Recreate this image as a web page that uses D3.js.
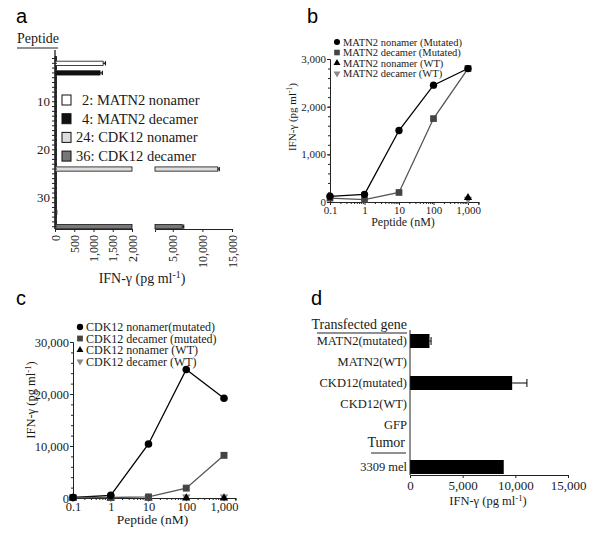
<!DOCTYPE html>
<html>
<head>
<meta charset="utf-8">
<script src="https://cdn.jsdelivr.net/npm/d3@7"></script>
<style>
  body { margin: 0; background: #fff; }
  svg { display: block; }
  text { font-family: "Liberation Serif", "DejaVu Serif", serif; fill: #1a1a1a; }
  .letter { font-family: "Liberation Sans", "DejaVu Sans", sans-serif; font-size: 20px; fill: #000; }
  .domain, .tick line { stroke: #222; }
</style>
</head>
<body>
<svg id="fig" width="600" height="538"></svg>
<script>
// ---------- panel a: peptide screen ----------
const peptideIds = [1, 2, 3, 4, 5, 6, 7, 8, 9, 10, 11, 12, 13, 14, 15, 16, 17, 18,
                    19, 20, 21, 22, 23, 24, 25, 26, 27, 28, 29, 30, 31, 32, 33, 34, 35, 36];
const peptideIfn = [40, 1250, 30, 1170, 40, 30, 30, 40, 30, 30, 40, 30, 30, 40, 30, 40, 30, 30,
                    40, 30, 40, 30, 30, 12600, 40, 30, 30, 40, 30, 30, 30, 40, 50, 40, 30, 6600];
const peptideErr = [0, 60, 0, 60, 0, 0, 0, 0, 0, 0, 0, 0, 0, 0, 0, 0, 0, 0,
                    0, 0, 0, 0, 0, 250, 0, 0, 0, 0, 0, 0, 0, 0, 0, 0, 0, 250];
const legendIds = [2, 4, 24, 36];
const legendNames = ["MATN2 nonamer", "MATN2 decamer", "CDK12 nonamer", "CDK12 decamer"];
const aTicksLow = [0, 500, 1000, 1500, 2000];
const aTicksHigh = [5000, 10000, 15000];

// ---------- panel b: MATN2 titration ----------
const doses = [0.1, 1, 10, 100, 1000];
const matn2NonMut = [120, 160, 1500, 2450, 2800];
const matn2DecMut = [80, 50, 200, 1750, 2800];
const matn2NonWT = [null, null, null, null, 90];
const matn2DecWT = [null, null, null, null, 60];
const bLabels = ["MATN2 nonamer (Mutated)", "MATN2 decamer (Mutated)", "MATN2 nonamer (WT)", "MATN2 decamer (WT)"];

// ---------- panel c: CDK12 titration ----------
const cdk12NonMut = [100, 500, 10400, 24700, 19200];
const cdk12DecMut = [100, 100, 200, 1900, 8200];
const cdk12NonWT = [0, 0, 0, 0, 0];
const cdk12DecWT = [100, 100, 100, 200, 200];
const cLabels = ["CDK12 nonamer(mutated)", "CDK12 decamer (mutated)", "CDK12 nonamer (WT)", "CDK12 decamer (WT)"];

// ---------- panel d: transfected genes ----------
const genes = ["MATN2(mutated)", "MATN2(WT)", "CKD12(mutated)", "CKD12(WT)", "GFP", "Tumor", "3309 mel"];
const geneIfn = [1850, 0, 9700, 0, 0, null, 8900];
const geneErr = [150, 0, 1400, 0, 0, null, 0];
const dTicks = [0, 5000, 10000, 15000];

const svg = d3.select("#fig");
const fmt = d3.format(",");

function ifnLabel(sel, size) {
  sel.style("font-size", size + "px");
  sel.append("tspan").text("IFN-γ (pg ml");
  sel.append("tspan").attr("dy", -size * 0.35).style("font-size", (size * 0.7) + "px").text("-1");
  sel.append("tspan").attr("dy", size * 0.35).text(")");
}

// panel letters
[["a", 16, 23], ["b", 307, 23], ["c", 16, 305], ["d", 311, 305]].forEach(([t, x, y]) =>
  svg.append("text").attr("class", "letter").attr("x", x).attr("y", y).text(t));

// ================= panel a =================
const ya = d3.scaleBand().domain(peptideIds).range([55.8, 229.4]).padding(0.12);
const xa1 = d3.scaleLinear().domain([0, 2000]).range([55, 132]);
const xa2 = d3.scaleLinear().domain([2000, 15000]).range([155, 232]);
const fillA = d => d === 2 ? "#fff" : d === 4 ? "#111" : d === 24 ? "#ddd" : d === 36 ? "#777" : "#555";

const ga = svg.append("g");
peptideIds.forEach((id, i) => {
  const v = peptideIfn[i], y = ya(id), h = ya.bandwidth();
  ga.append("rect").attr("x", xa1(0)).attr("y", y).attr("height", h)
    .attr("width", Math.max(xa1(Math.min(v, 2000)) - xa1(0), 1.5))
    .attr("fill", fillA(id)).attr("stroke", "#111").attr("stroke-width", 0.8);
  let xe = xa1(Math.min(v, 2000));
  if (v > 2000) {
    ga.append("rect").attr("x", xa2(2000)).attr("y", y).attr("height", h)
      .attr("width", xa2(v) - xa2(2000))
      .attr("fill", fillA(id)).attr("stroke", "#111").attr("stroke-width", 0.8);
    xe = xa2(v);
  }
  if (peptideErr[i] > 0) {
    const xr = v > 2000 ? xa2(v + peptideErr[i]) : xa1(v + peptideErr[i]);
    ga.append("line").attr("x1", xe).attr("x2", xr).attr("y1", y + h / 2).attr("y2", y + h / 2)
      .attr("stroke", "#111").attr("stroke-width", 1.2);
    ga.append("line").attr("x1", xr).attr("x2", xr).attr("y1", y).attr("y2", y + h)
      .attr("stroke", "#111").attr("stroke-width", 1.2);
  }
});

const ayAxis = svg.append("g").attr("transform", "translate(55,0)")
  .call(d3.axisLeft(ya).tickSize(3).tickPadding(2).tickFormat(d => d % 10 === 0 ? d : ""));
ayAxis.select(".domain").attr("d", "M0,50V229").attr("stroke-width", 1.3);
ayAxis.selectAll(".tick line").attr("x2", 2).attr("x1", -3);
ayAxis.selectAll("text").style("font-size", "13px").attr("fill", "#1a1a1a");

function rotTicks(g) {
  g.selectAll("text").style("font-size", "12px").attr("fill", "#1a1a1a")
    .attr("text-anchor", "end").attr("transform", "rotate(-90)")
    .attr("x", -6).attr("y", 0).attr("dy", "0.35em");
}
svg.append("g").attr("transform", "translate(0,229)")
  .call(d3.axisBottom(xa1).tickValues(aTicksLow).tickSize(3).tickFormat(fmt)).call(rotTicks);
svg.append("g").attr("transform", "translate(0,229)")
  .call(d3.axisBottom(xa2).tickValues(aTicksHigh).tickSize(3).tickFormat(fmt)).call(rotTicks);

svg.append("text").attr("x", 17).attr("y", 43).style("font-size", "14px").text("Peptide");
svg.append("line").attr("x1", 17).attr("x2", 58).attr("y1", 48).attr("y2", 48).attr("stroke", "#222").attr("stroke-width", 1.2);
svg.append("text").attr("x", 142).attr("y", 283).attr("text-anchor", "middle").call(ifnLabel, 14);

// legend a
legendIds.forEach((id, i) => {
  const cy = 100 + i * 18.7;
  svg.append("rect").attr("x", 62).attr("y", cy - 5).attr("width", 9).attr("height", 10)
    .attr("fill", fillA(id)).attr("stroke", "#111").attr("stroke-width", 1);
  svg.append("text").attr("x", id < 10 ? 82 : 76).attr("y", cy).attr("dy", "0.35em")
    .style("font-size", "14.5px").text(id + ": " + legendNames[i]);
});

// ================= panels b & c (titrations) =================
const symbols = [d3.symbolCircle, d3.symbolSquare, d3.symbolTriangle, d3.symbolTriangle];
const markFill = ["#000", "#444", "#000", "#8a8a8a"];
const markRot = [0, 0, 0, 180];
const lineCol = ["#000", "#555", "#000", "#8a8a8a"];

function titration(cfg) {
  const x = d3.scaleLog().domain([0.1, 2000]).range([cfg.x0, cfg.x0 + cfg.dec * Math.log10(20000)]);
  const y = d3.scaleLinear().domain([0, cfg.ymax]).range([cfg.y0, cfg.y1]);
  const g = svg.append("g");
  const minor = [];
  [0.1, 1, 10, 100, 1000].forEach(b => [2, 3, 4, 5, 6, 7, 8, 9].forEach(m => { if (b * m <= 2000) minor.push(b * m); }));
  g.append("g").attr("transform", `translate(0,${cfg.y0})`)
    .call(d3.axisBottom(x).tickValues(minor).tickSize(2).tickFormat(""));
  const xAx = g.append("g").attr("transform", `translate(0,${cfg.y0})`)
    .call(d3.axisBottom(x).tickValues(doses).tickSize(3).tickPadding(1).tickFormat(d => d < 1 ? "0.1" : fmt(d)));
  xAx.selectAll("text").style("font-size", cfg.fs + "px").attr("fill", "#1a1a1a");
  const yAx = g.append("g").attr("transform", `translate(${cfg.x0},0)`)
    .call(d3.axisLeft(y).ticks(3).tickSize(3).tickPadding(1).tickFormat(fmt));
  yAx.selectAll("text").style("font-size", cfg.fs + "px").attr("fill", "#1a1a1a");
  g.append("g").attr("transform", `translate(${cfg.x0},0)`)
    .call(d3.axisLeft(y).ticks(15).tickSize(2).tickFormat("")).select(".domain").remove();

  cfg.series.forEach((vals, s) => {
    const pts = doses.map((d, i) => [d, vals[i]]).filter(p => p[1] !== null);
    if (s < 2) {
      g.append("path").datum(pts).attr("fill", "none").attr("stroke", lineCol[s]).attr("stroke-width", 1.3)
        .attr("d", d3.line().x(p => x(p[0])).y(p => y(p[1])));
    }
  });
  [3, 2, 1, 0].forEach(s => {
    const pts = doses.map((d, i) => [d, cfg.series[s][i]]).filter(p => p[1] !== null);
    g.selectAll(null).data(pts).enter().append("path")
      .attr("d", d3.symbol().type(symbols[s]).size(cfg.ms[s]))
      .attr("transform", p => `translate(${x(p[0])},${y(p[1])}) rotate(${markRot[s]})`)
      .attr("fill", markFill[s]);
  });

  cfg.labels.forEach((t, i) => {
    const cy = cfg.ly + i * cfg.lstep;
    svg.append("path").attr("d", d3.symbol().type(symbols[i]).size(cfg.ms[i] * 0.7))
      .attr("transform", `translate(${cfg.lx},${cy}) rotate(${markRot[i]})`).attr("fill", markFill[i]);
    svg.append("text").attr("x", cfg.lx + 6).attr("y", cy).attr("dy", "0.35em")
      .style("font-size", cfg.lfs + "px").text(t);
  });

  svg.append("text").attr("x", (cfg.x0 + x(1000)) / 2 + 4).attr("y", cfg.xly).attr("text-anchor", "middle")
    .style("font-size", cfg.fs + 1 + "px").text("Peptide (nM)");
  svg.append("text").attr("text-anchor", "middle")
    .attr("transform", `translate(${cfg.ylx},${cfg.yly}) rotate(-90)`).call(ifnLabel, cfg.fs);
}

titration({
  x0: 330, dec: 34.5, y0: 202, y1: 59, ymax: 3000, fs: 11, ms: [42, 45, 30, 30],
  series: [matn2NonMut, matn2DecMut, matn2NonWT, matn2DecWT], labels: bLabels,
  lx: 337, ly: 42, lstep: 10.5, lfs: 10.5, xly: 226, ylx: 296, yly: 117
});
titration({
  x0: 73, dec: 37.75, y0: 498, y1: 342, ymax: 30000, fs: 12.5, ms: [45, 48, 30, 30],
  series: [cdk12NonMut, cdk12DecMut, cdk12NonWT, cdk12DecWT], labels: cLabels,
  lx: 80, ly: 327, lstep: 11.5, lfs: 12, xly: 524, ylx: 35, yly: 400
});

// ================= panel d =================
const yd = d3.scaleBand().domain(genes).range([330.5, 477.5]).paddingInner(1 / 3).paddingOuter(1 / 6);
const xd = d3.scaleLinear().domain([0, 15000]).range([410, 568]);
const gd = svg.append("g");
genes.forEach((gname, i) => {
  if (geneIfn[i] === null || geneIfn[i] === 0) return;
  gd.append("rect").attr("x", xd(0)).attr("y", yd(gname)).attr("height", yd.bandwidth())
    .attr("width", xd(geneIfn[i]) - xd(0)).attr("fill", "#000");
  if (geneErr[i] > 0) {
    const cy = yd(gname) + yd.bandwidth() / 2, xr = xd(geneIfn[i] + geneErr[i]);
    gd.append("line").attr("x1", xd(geneIfn[i])).attr("x2", xr).attr("y1", cy).attr("y2", cy).attr("stroke", "#000");
    gd.append("line").attr("x1", xr).attr("x2", xr).attr("y1", cy - 4).attr("y2", cy + 4).attr("stroke", "#000");
  }
});
const dxAx = svg.append("g").attr("transform", "translate(0,475)")
  .call(d3.axisBottom(xd).tickValues(dTicks).tickSize(3).tickPadding(3).tickFormat(fmt));
dxAx.selectAll("text").style("font-size", "13px").attr("fill", "#1a1a1a");
const dyAx = svg.append("g").attr("transform", "translate(410,0)")
  .call(d3.axisLeft(yd).tickSize(0).tickPadding(3));
dyAx.select(".domain").attr("d", "M0,330V475");
dyAx.selectAll("text").style("font-size", "12.5px").attr("fill", "#1a1a1a");
dyAx.selectAll(".tick").filter(d => d === "Tumor").select("text")
  .style("font-size", "14px").attr("x", -5).attr("dy", "0.1em");
svg.append("line").attr("x1", 371).attr("x2", 406).attr("y1", 453).attr("y2", 453).attr("stroke", "#222").attr("stroke-width", 1.2);
svg.append("text").attr("x", 407).attr("y", 329).attr("text-anchor", "end").style("font-size", "14px").text("Transfected gene");
svg.append("line").attr("x1", 317).attr("x2", 407).attr("y1", 333).attr("y2", 333).attr("stroke", "#222").attr("stroke-width", 1.2);
svg.append("text").attr("x", 488).attr("y", 505).attr("text-anchor", "middle").call(ifnLabel, 12.5);
</script>
</body>
</html>
